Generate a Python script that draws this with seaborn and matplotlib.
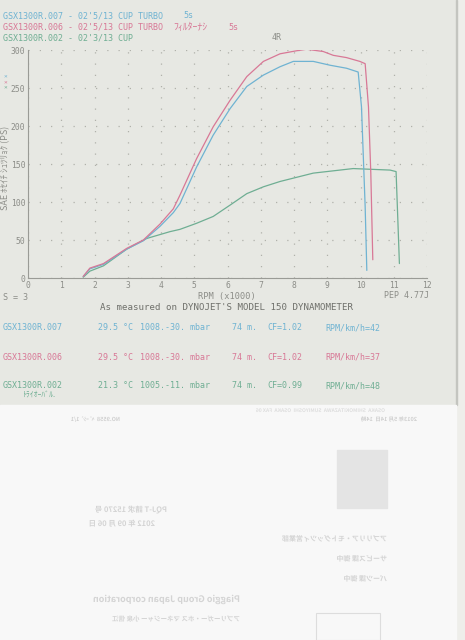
import numpy as np
import pandas as pd
import matplotlib
matplotlib.use("Agg")
import matplotlib.pyplot as plt
import seaborn as sns
from matplotlib.patches import Rectangle, PathPatch
from matplotlib.textpath import TextPath
from matplotlib.font_manager import FontProperties
from matplotlib.transforms import Affine2D

# ---------------------- DATA ----------------------
# GSX1300R.007 (turbo, blue)
rpm_007 = [1.66, 1.86, 2.27, 2.97, 3.47, 3.97, 4.37, 4.57, 5.07, 5.57, 6.08, 6.58,
           7.08, 7.58, 7.98, 8.58, 9.08, 9.58, 9.93, 10.03, 10.14, 10.19]
ps_007 = [2, 12, 18, 38, 49, 68, 86, 98, 146, 188, 223, 252,
          267, 278, 285, 285, 280, 276, 271, 225, 94, 10]

# GSX1300R.006 (turbo, no filter, red)
rpm_006 = [1.66, 1.86, 2.27, 2.97, 3.47, 3.97, 4.37, 4.57, 5.07, 5.57, 6.08, 6.58,
           7.08, 7.58, 8.08, 8.38, 8.88, 9.18, 9.58, 9.98, 10.14, 10.24, 10.31, 10.37]
ps_006 = [2, 13, 19, 39, 50, 71, 91, 109, 157, 199, 234, 265,
          285, 295, 299, 301, 298, 293, 290, 285, 282, 225, 138, 24]

# GSX1300R.002 (stock, green)
rpm_002 = [1.66, 1.86, 2.27, 2.97, 3.57, 4.27, 4.57, 5.07, 5.57, 6.08, 6.58, 7.08,
           7.58, 8.58, 9.78, 10.89, 11.07, 11.12, 11.17]
ps_002 = [1, 9, 16, 38, 52, 61, 64, 72, 81, 96, 111, 120,
          127, 138, 144, 142, 140, 80, 19]

header_lines = ["GSX1300R.007 - 02'5/13 CUP TURBO",
                "GSX1300R.006 - 02'5/13 CUP TURBO",
                "GSX1300R.002 - 02'3/13 CUP"]
header_tail = ["5s", "ﾌｨﾙﾀｰﾅｼ  5s", ""]
run_names = ["GSX1300R.007", "GSX1300R.006", "GSX1300R.002"]
temps = ["29.5 °C", "29.5 °C", "21.3 °C"]
pressures = ["1008.-30. mbar", "1008.-30. mbar", "1005.-11. mbar"]
altitudes = ["74 m.", "74 m.", "74 m."]
cfs = ["CF=1.02", "CF=1.02", "CF=0.99"]
ratios = ["RPM/km/h=42", "RPM/km/h=37", "RPM/km/h=48"]

colors = ["#6fb3d2", "#d87896", "#6fae93"]

# ---------------------- STYLE ----------------------
sns.set_theme(style="white")
mono = ["DejaVu Sans Mono", "Noto Sans CJK JP"]
plt.rcParams['font.family'] = mono
gray = "#8c8d88"

W, H = 465, 640
fig = plt.figure(figsize=(W / 100, H / 100), dpi=100)
fig.patch.set_facecolor("#e7e8e3")


def fx(x):
    return x / W


def fy(y):
    return 1 - y / H


# paper background pieces
fig.add_artist(Rectangle((fx(457), 0), fx(8), 1, transform=fig.transFigure,
                         color="#eeeeea", zorder=0))
fig.add_artist(Rectangle((fx(456), fy(405)), fx(1.2), 405 / H, transform=fig.transFigure,
                         color="#c4c5c0", zorder=0))
fig.add_artist(Rectangle((0, 0), fx(456), 235 / H, transform=fig.transFigure,
                         color="#f8f8f8", zorder=1))

# ---------------------- CHART ----------------------
ax = fig.add_axes([fx(28), fy(278), fx(399), 228 / H])
ax.set_facecolor("none")

for rpm, ps, c in zip([rpm_002, rpm_007, rpm_006], [ps_002, ps_007, ps_006],
                      [colors[2], colors[0], colors[1]]):
    d = pd.DataFrame({"rpm": rpm, "ps": ps})
    sns.lineplot(data=d, x="rpm", y="ps", sort=False, color=c, lw=0.9, ax=ax)

ax.set_xlim(0, 12)
ax.set_ylim(0, 300)
ax.set_xticks(range(0, 13))
ax.set_yticks(range(0, 301, 50))
ax.set_xlabel("")
ax.set_ylabel("")
ax.grid(True, color="#b0b1ab", linestyle=(0, (1, 8)), lw=0.9)
for s in ["top", "right"]:
    ax.spines[s].set_visible(False)
for s in ["left", "bottom"]:
    ax.spines[s].set_color("#9a9b96")
    ax.spines[s].set_linewidth(0.8)
ax.tick_params(length=0, labelsize=5.8, colors=gray, pad=2)

# ---------------------- TEXT ----------------------
fs = 6.0
kfs = 7.0   # half-width katakana looks small, bump it
for i, line in enumerate(header_lines):
    fig.text(fx(3), fy(16 + i * 11), line, color=colors[i], fontsize=fs, va="center")
fig.text(fx(183), fy(16), "5s", color=colors[0], fontsize=fs, va="center")
fig.text(fx(173), fy(27), "ﾌｨﾙﾀｰﾅｼ", color=colors[1], fontsize=kfs, va="center")
fig.text(fx(228), fy(27), "5s", color=colors[1], fontsize=fs, va="center")
fig.text(fx(272), fy(38), "4R", color=gray, fontsize=fs, va="center")

fig.text(fx(6), fy(168), "SAE ﾎｾｲﾁ ｼｭﾂﾘｮｸ (PS)", rotation=90, color=gray,
         fontsize=6.5, va="center", ha="center", family="Noto Sans CJK JP")
for i, c in enumerate(colors):
    fig.text(fx(5), fy(77 + i * 5.5), "×", color=c, fontsize=4.5, ha="center", va="center")

fig.text(fx(3), fy(297), "S = 3", color=gray, fontsize=fs, va="center")
fig.text(fx(227), fy(296), "RPM (x1000)", color=gray, fontsize=6.2,
         va="center", ha="center")
fig.text(fx(429), fy(296), "PEP 4.77J", color=gray, fontsize=fs,
         va="center", ha="right")
fig.text(fx(226), fy(307), "As measured on DYNOJET'S MODEL 150 DYNAMOMETER",
         color="#6f706b", fontsize=6.6, va="center", ha="center")

cols_x = [3, 98, 140, 232, 267, 325]
for i in range(3):
    y = fy(328 + i * 29)
    vals = [run_names[i], temps[i], pressures[i], altitudes[i], cfs[i], ratios[i]]
    for xx, v in zip(cols_x, vals):
        fig.text(fx(xx), y, v, color=colors[i], fontsize=fs, va="center")
fig.text(fx(23), fy(395), "ﾄﾗｲｵｰﾊﾞﾙ.", color=colors[2], fontsize=5.5, va="center",
         family="Noto Sans CJK JP")

# ---------------------- SHOW-THROUGH (mirrored back side) ----------------------
jp = FontProperties(family="Noto Sans CJK JP", weight="bold")
ghost = "#d4d4d4"


def add_mirror(txt, x_right, y_base, size, color=ghost):
    tp = TextPath((0, 0), txt, size=size, prop=jp)
    # pixel coords: flip x, picture y grows downward
    tr = Affine2D().scale(-1, 1).translate(x_right, H - y_base)
    p = tr.transform_path(tp)
    fig.add_artist(PathPatch(p, facecolor=color, lw=0,
                             transform=Affine2D().scale(1 / W, 1 / H) + fig.transFigure,
                             zorder=2))


add_mirror("Piaggio Group Japan corporation", 240, 602, 9)
add_mirror("PQJ-T 請求 15270 号", 167, 512, 7.5)
add_mirror("2012 年 09 月 06 日", 155, 526, 7.5)
add_mirror("アプリリア・モトグッツィ営業部", 387, 541, 7)
add_mirror("サービス課 御中", 387, 561, 7)
add_mirror("パーツ課 御中", 387, 581, 7)
add_mirror("アプリーガー・ホス マネージャー 小泉 信江", 240, 621, 6.5)
add_mirror("2013年 5月 14日  14時", 417, 421, 5.5, "#cfcfcf")
add_mirror("NO.9558  ﾍﾟｰｼﾞ 1/1", 120, 421, 5.5, "#cfcfcf")
add_mirror("OSAKA  SHIMOKITAZAWA  SUMIYOSHI  OSAKA  FAX 06", 385, 412, 5, "#dedede")
fig.add_artist(Rectangle((fx(337), fy(508)), fx(50), 58 / H, transform=fig.transFigure,
                         color="#e4e4e4", zorder=2))
fig.add_artist(Rectangle((fx(316), fy(640)), fx(64), 27 / H, transform=fig.transFigure,
                         facecolor="none", edgecolor="#dddddd", lw=0.8, zorder=2))

fig.savefig("out.png", dpi=100, facecolor=fig.get_facecolor())
